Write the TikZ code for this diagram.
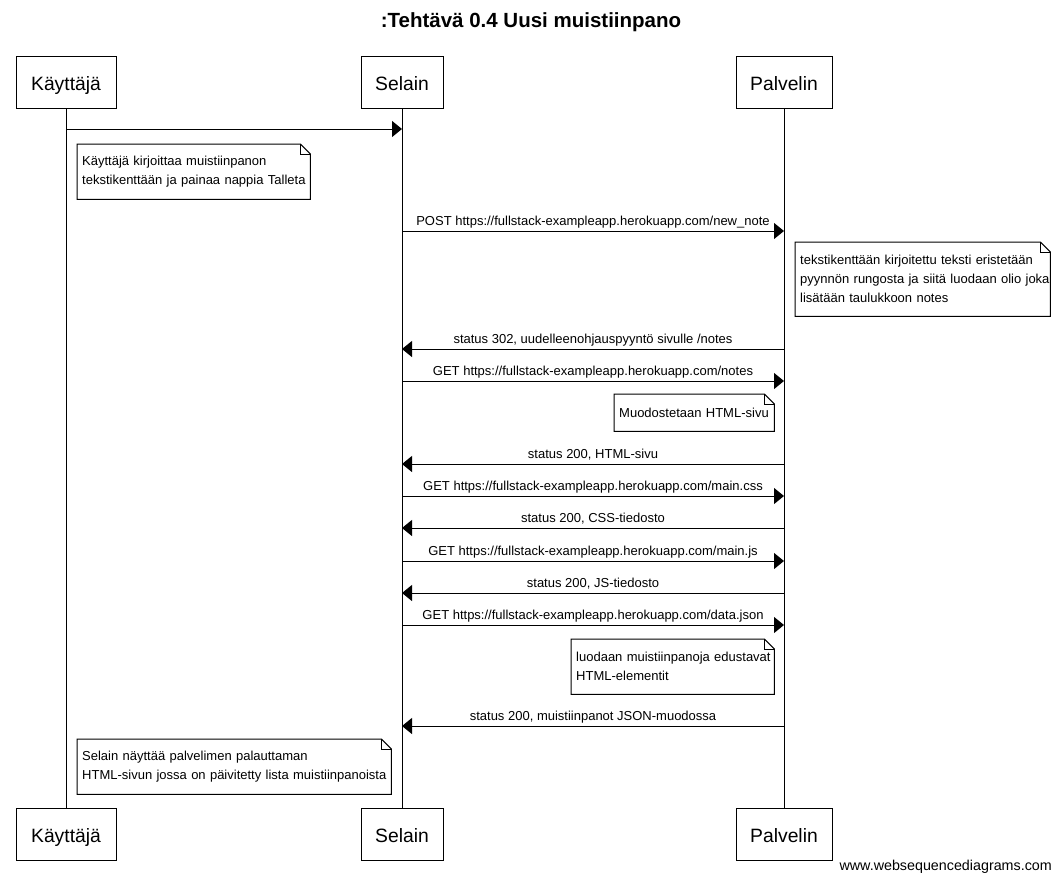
\documentclass[tikz,border=0pt]{standalone}
\usepackage{fontspec}
\setmainfont{Liberation Sans}
\usetikzlibrary{arrows.meta}
\tikzset{
  part/.style={draw, line width=1pt, minimum height=52pt, inner sep=0pt, text height=17.5pt, text depth=0pt, font=\fontsize{19.3}{22}\selectfont},
  life/.style={line width=1pt},
  msg/.style={line width=1pt, -{Triangle[length=10pt,width=16pt]}},
  lbl/.style={font=\fontsize{13}{15}\selectfont, inner sep=0pt, text height=9.5pt, text depth=2.5pt, yshift=9pt},
  note/.style={anchor=north west, inner xsep=5pt, inner ysep=0pt, align=left, font=\fontsize{13}{19}\selectfont},
  notefold/.style={line width=1pt, line join=miter},
}
\newcommand\drawnote[1]{%
  \draw[notefold] (#1.north west) -- ([xshift=-10pt]#1.north east) -- ([yshift=-10pt]#1.north east) -- (#1.south east) -- (#1.south west) -- cycle;
  \draw[notefold] ([xshift=-10pt]#1.north east) -- ([xshift=-10pt,yshift=-10pt]#1.north east) -- ([yshift=-10pt]#1.north east);}
\begin{document}
\begin{tikzpicture}[x=1pt,y=-1pt]
\useasboundingbox (0,0) rectangle (1060,886);
\node[font=\fontsize{20.5}{24}\selectfont\bfseries] (title) at (531,22) {:Tehtävä 0.4 Uusi muistiinpano};
% participants
\node[part, minimum width=100pt] (kt) at (66,82) {Käyttäjä};
\node[part, minimum width=82pt] (st) at (402,82) {Selain};
\node[part, minimum width=96pt] (pt) at (784,82) {Palvelin};
\node[part, minimum width=100pt] (kb) at (66,834) {Käyttäjä};
\node[part, minimum width=82pt] (sb) at (402,834) {Selain};
\node[part, minimum width=96pt] (pb) at (784,834) {Palvelin};
\draw[life] (kt.south) -- (kb.north);
\draw[life] (st.south) -- (sb.north);
\draw[life] (pt.south) -- (pb.north);
% messages
\draw[msg] (kt.south |- 0,129) -- (st.south |- 0,129);
\node[note, minimum width=233pt, minimum height=55pt, text width=223pt] (n1) at (77,144) {\mbox{Käyttäjä kirjoittaa muistiinpanon}\\\mbox{tekstikenttään ja painaa nappia Talleta}};
\drawnote{n1}
\draw[msg] (st.south |- 0,231) -- node[lbl] {POST https://fullstack-exampleapp.herokuapp.com/new\_note} (pt.south |- 0,231);
\node[note, minimum width=255pt, minimum height=74pt, text width=245pt] (n2) at (795,242) {\mbox{tekstikenttään kirjoitettu teksti eristetään}\\\mbox{pyynnön rungosta ja siitä luodaan olio joka}\\\mbox{lisätään taulukkoon notes}};
\drawnote{n2}
\draw[msg] (pt.south |- 0,349) -- node[lbl] {status 302, uudelleenohjauspyyntö sivulle /notes} (st.south |- 0,349);
\draw[msg] (st.south |- 0,381) -- node[lbl] {GET https://fullstack-exampleapp.herokuapp.com/notes} (pt.south |- 0,381);
\node[note, minimum width=160pt, minimum height=37pt, text width=150pt] (n3) at (614,394) {\mbox{Muodostetaan HTML-sivu}};
\drawnote{n3}
\draw[msg] (pt.south |- 0,464) -- node[lbl] {status 200, HTML-sivu} (st.south |- 0,464);
\draw[msg] (st.south |- 0,496) -- node[lbl] {GET https://fullstack-exampleapp.herokuapp.com/main.css} (pt.south |- 0,496);
\draw[msg] (pt.south |- 0,528) -- node[lbl] {status 200, CSS-tiedosto} (st.south |- 0,528);
\draw[msg] (st.south |- 0,561) -- node[lbl] {GET https://fullstack-exampleapp.herokuapp.com/main.js} (pt.south |- 0,561);
\draw[msg] (pt.south |- 0,593) -- node[lbl] {status 200, JS-tiedosto} (st.south |- 0,593);
\draw[msg] (st.south |- 0,625) -- node[lbl] {GET https://fullstack-exampleapp.herokuapp.com/data.json} (pt.south |- 0,625);
\node[note, minimum width=203pt, minimum height=55pt, text width=193pt] (n4) at (571,639) {\mbox{luodaan muistiinpanoja edustavat}\\\mbox{HTML-elementit}};
\drawnote{n4}
\draw[msg] (pt.south |- 0,726) -- node[lbl] {status 200, muistiinpanot JSON-muodossa} (st.south |- 0,726);
\node[note, minimum width=314pt, minimum height=55pt, text width=304pt] (n5) at (77,739) {\mbox{Selain näyttää palvelimen palauttaman}\\\mbox{HTML-sivun jossa on päivitetty lista muistiinpanoista}};
\drawnote{n5}
\node[anchor=east, inner sep=0pt, font=\fontsize{14.3}{16}\selectfont] (footer) at (1052,867) {www.websequencediagrams.com};
\end{tikzpicture}
\end{document}
